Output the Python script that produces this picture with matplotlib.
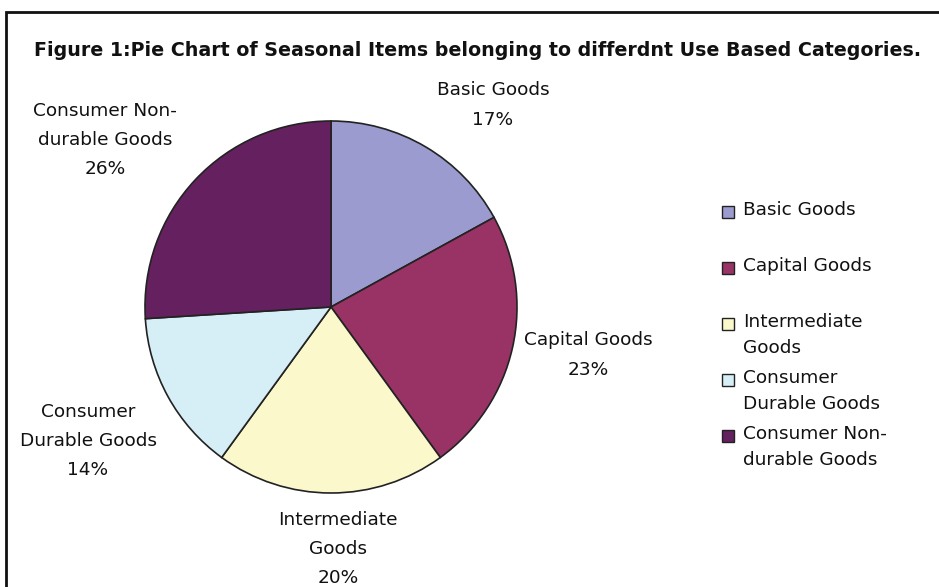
import matplotlib.pyplot as plt
from matplotlib.patches import Rectangle

categories = ['Basic Goods', 'Capital Goods', 'Intermediate Goods',
              'Consumer Durable Goods', 'Consumer Non-durable Goods']
shares = [17, 23, 20, 14, 26]
pie_labels = ['Basic Goods', 'Capital Goods', 'Intermediate\nGoods',
              'Consumer\nDurable Goods', 'Consumer Non-\ndurable Goods']
legend_labels = ['Basic Goods', 'Capital Goods', 'Intermediate\nGoods',
                 'Consumer\nDurable Goods', 'Consumer Non-\ndurable Goods']
colors = ['#9b9bd0', '#993366', '#fbf8cc', '#d6eef5', '#64205f']

W, H = 939, 587
plt.rcParams['font.family'] = ['DejaVu Sans']

fig = plt.figure(figsize=(W / 100, H / 100), dpi=100)
ax = fig.add_axes([0, 0, 1, 1])

# outer frame (cropped on the right and bottom)
ax.add_patch(Rectangle((6, -20), W + 40, H - 12 + 20, fill=False,
                       edgecolor='#111111', linewidth=2))

ax.text(478, H - 50, 'Figure 1:Pie Chart of Seasonal Items belonging to differdnt Use Based Categories.',
        ha='center', va='center', fontsize=13.7, fontweight='bold', color='#111111')

cx, cy, r = 331, H - 307, 186
ax.pie(shares, colors=colors, startangle=90, counterclock=False,
       center=(cx, cy), radius=r, frame=True,
       wedgeprops=dict(edgecolor='#222222', linewidth=1.2))
ax.set_xlim(0, W)
ax.set_ylim(0, H)
ax.set_aspect('equal')
ax.axis('off')

# label block centres (pixels from top-left)
label_pos = [(493, 105), (588, 355), (338, 549), (88, 441), (105, 140)]
for lab, val, (x, y) in zip(pie_labels, shares, label_pos):
    ax.text(x, H - y, f'{lab}\n{val}%', ha='center', va='center',
            fontsize=13.3, linespacing=1.8, color='#111111')

# legend
leg_x, leg_y0, leg_step = 722, 212, 56
for i, (lab, col) in enumerate(zip(legend_labels, colors)):
    y = H - (leg_y0 + i * leg_step)
    ax.add_patch(Rectangle((leg_x, y - 6), 12, 12, facecolor=col,
                           edgecolor='#222222', linewidth=1))
    ax.text(leg_x + 21, y + 11, lab, ha='left', va='top', fontsize=13.3,
            linespacing=1.55, color='#111111')

fig.savefig('out.png', dpi=100)
